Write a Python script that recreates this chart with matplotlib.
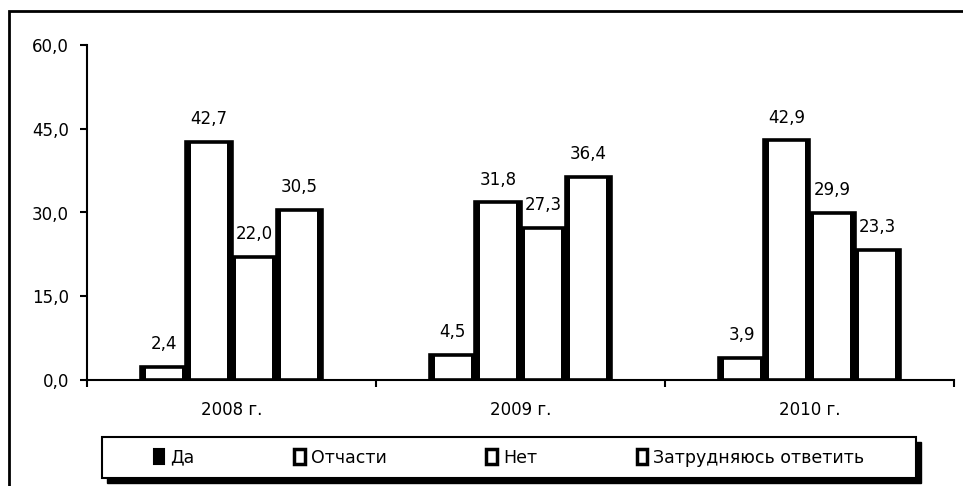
# -*- coding: utf-8 -*-
import numpy as np
import matplotlib as mpl
import matplotlib.pyplot as plt
from matplotlib.patches import Rectangle

mpl.rcParams['font.family'] = ['DejaVu Sans']

years = ['2008 г.', '2009 г.', '2010 г.']
answers = ['Да', 'Отчасти', 'Нет', 'Затрудняюсь ответить']
da = [2.4, 4.5, 3.9]
otchasti = [42.7, 31.8, 42.9]
net = [22.0, 27.3, 29.9]
zatr = [30.5, 36.4, 23.3]
y_ticks = [0, 15, 30, 45, 60]


def fmt(v):
  return ('%.1f' % v).replace('.', ',')


fig = plt.figure(figsize=(9.63, 4.86), dpi=100)
ax = fig.add_axes([87 / 963, 106 / 486, 867 / 963, 335 / 486])

series = [da, otchasti, net, zatr]
x = np.arange(len(years))
w = 0.156
side = 0.017
for i, vals in enumerate(series):
  pos = x + (i - 1.5) * w
  ax.bar(pos, vals, w, color='white', edgecolor='black', linewidth=2.6, zorder=3)
  # dark side shading of the columns
  ax.bar(pos - w / 2 + side / 2, vals, side, color='black', linewidth=0, zorder=4)
  ax.bar(pos + w / 2 - side / 2, vals, side, color='black', linewidth=0, zorder=4)
  for px, v in zip(pos, vals):
    ax.annotate(fmt(v), (px, v), xytext=(0, 10), textcoords='offset points',
                ha='center', va='bottom', fontsize=12)

ax.set_xlim(-0.5, 2.5)
ax.set_ylim(0, 60)
ax.set_yticks(y_ticks)
ax.set_yticklabels([fmt(t) for t in y_ticks], fontsize=12)
ax.set_xticks(x)
ax.set_xticklabels(years, fontsize=12)
ax.set_xticks([-0.5, 0.5, 1.5, 2.5], minor=True)
ax.tick_params(axis='x', which='major', length=0, pad=15)
ax.tick_params(axis='x', which='minor', length=5, width=1.5, direction='out')
ax.tick_params(axis='y', length=5, width=1.5, direction='out', pad=8)
for s in ['top', 'right']:
  ax.spines[s].set_visible(False)
for s in ['left', 'bottom']:
  ax.spines[s].set_linewidth(1.5)

# outer frame of the chart area
fig.patches.append(Rectangle((9 / 963, -0.5), 2, (486 - 11) / 486 + 0.5,
                             transform=fig.transFigure, fill=False,
                             edgecolor='black', linewidth=2))

# legend box with a solid shadow
box = (102 / 963, 8 / 486, 814 / 963, 41 / 486)
fig.patches.append(Rectangle((box[0] + 5 / 963, box[1] - 5 / 486), box[2], box[3],
                             transform=fig.transFigure, facecolor='black',
                             edgecolor='black', zorder=5))
fig.patches.append(Rectangle((box[0], box[1]), box[2], box[3],
                             transform=fig.transFigure, facecolor='white',
                             edgecolor='black', linewidth=1.5, zorder=6))

handles = [Rectangle((0, 0), 1, 1, facecolor='black', edgecolor='black', lw=1.5)]
for _ in answers[1:]:
  handles.append(Rectangle((0, 0), 1, 1, facecolor='white', edgecolor='black', lw=2.5))
leg = fig.legend(handles, answers, loc='center', ncol=4,
                 bbox_to_anchor=box, bbox_transform=fig.transFigure,
                 prop={'size': 12.5},
                 handlelength=0.6, handleheight=1.0, handletextpad=0.35,
                 columnspacing=5.75, frameon=False)
leg.set_zorder(7)

plt.savefig('out.png', dpi=100)
